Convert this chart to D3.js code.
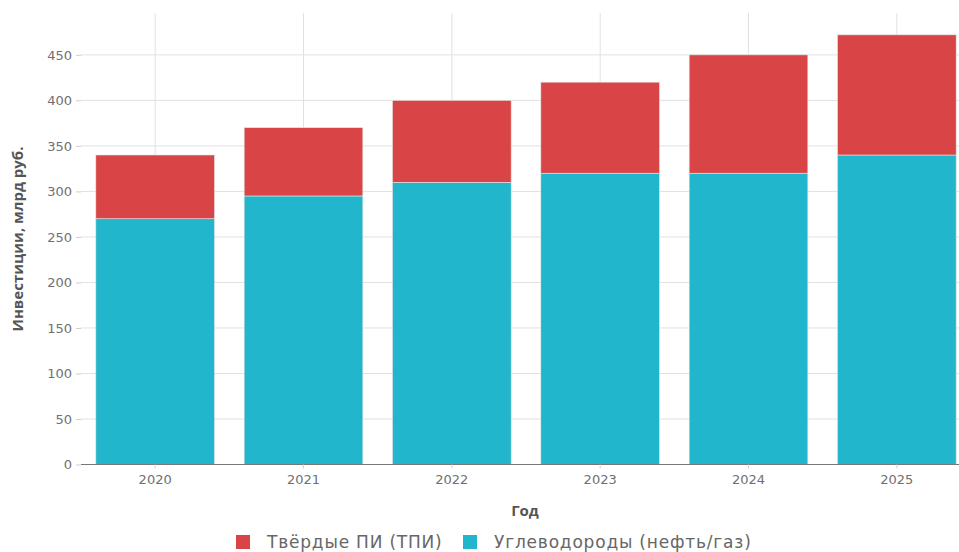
<!DOCTYPE html>
<html>
<head>
<meta charset="utf-8">
<script src="https://cdn.jsdelivr.net/npm/d3@7"></script>
<style>
  html, body { margin: 0; padding: 0; background: #fff; }
  svg { display: block; font-family: "Open Sans", "Noto Sans", sans-serif; }
  .lbl { font-family: "DejaVu Sans", "Noto Sans", sans-serif; }
</style>
</head>
<body>
<svg id="chart" width="959" height="552"></svg>
<script>
// Investment by year, billion rubles
const years = ["2020", "2021", "2022", "2023", "2024", "2025"];
const hydrocarbons = [270, 295, 310, 320, 320, 340];   // Углеводороды (нефть/газ)
const solidMinerals = [70, 75, 90, 100, 130, 132];     // Твёрдые ПИ (ТПИ)
const yTicks = [0, 50, 100, 150, 200, 250, 300, 350, 400, 450];
const seriesNames = ["Углеводороды (нефть/газ)", "Твёрдые ПИ (ТПИ)"];
const seriesColors = ["#21b6cc", "#d94546"];

const svg = d3.select("#chart");
const margin = { left: 81, top: 13, bottom: 464.5 };

const rows = years.map((y, i) => ({ year: y, hc: hydrocarbons[i], tpi: solidMinerals[i] }));
const stack = d3.stack().keys(["hc", "tpi"])(rows);

const x = d3.scaleBand().domain(years).range([margin.left, 971])
  .paddingInner(0.2).paddingOuter(0.1);
const y = d3.scaleLinear().domain([0, 496]).range([margin.bottom, margin.top]);

// Grid
const grid = svg.append("g");
grid.selectAll("line.h").data(yTicks.filter(t => t > 0)).join("line")
  .attr("x1", margin.left).attr("x2", 959)
  .attr("y1", d => y(d)).attr("y2", d => y(d))
  .attr("stroke", "#e1e1e1").attr("stroke-width", 1);
grid.selectAll("line.v").data(years).join("line")
  .attr("x1", d => x(d) + x.bandwidth() / 2).attr("x2", d => x(d) + x.bandwidth() / 2)
  .attr("y1", margin.top).attr("y2", margin.bottom)
  .attr("stroke", "#e1e1e1").attr("stroke-width", 1);

// Bars
svg.append("g").selectAll("g").data(stack).join("g")
  .attr("fill", (d, i) => seriesColors[i])
  .selectAll("rect").data(d => d).join("rect")
  .attr("x", d => x(d.data.year))
  .attr("width", x.bandwidth())
  .attr("y", d => y(d[1]))
  .attr("height", d => y(d[0]) - y(d[1]))
  .attr("stroke", "#e4e4e4").attr("stroke-width", 0.6);

// Y axis
const yAxis = svg.append("g").attr("transform", `translate(${margin.left},0)`)
  .call(d3.axisLeft(y).tickValues(yTicks).tickSize(5).tickPadding(4));
yAxis.select(".domain").remove();
yAxis.selectAll(".tick line").attr("stroke", "#cfcfcf");
yAxis.selectAll(".tick text").attr("class", "lbl").attr("fill", "#707070").style("font-size", "13px");

// X axis
const xAxis = svg.append("g").attr("transform", `translate(0,${margin.bottom})`)
  .call(d3.axisBottom(x).tickSize(4).tickPadding(6).tickSizeOuter(0));
xAxis.select(".domain").attr("d", `M${margin.left},0H971`).attr("stroke", "#777").attr("stroke-width", 1.2);
xAxis.selectAll(".tick line").attr("stroke", "#d5d5d5");
xAxis.selectAll(".tick text").attr("class", "lbl").attr("fill", "#707070").style("font-size", "13px");

// Axis titles
svg.append("text").attr("x", 525).attr("y", 516).attr("text-anchor", "middle")
  .attr("fill", "#555").style("font-size", "15px").style("font-weight", "bold").text("Год");
svg.append("text").attr("transform", "translate(23,239) rotate(-90)").attr("text-anchor", "middle")
  .attr("fill", "#555").style("font-size", "15px").style("font-weight", "bold")
  .text("Инвестиции, млрд руб.");

// Legend
const legendItems = [
  { name: seriesNames[1], color: seriesColors[1], x: 236 },
  { name: seriesNames[0], color: seriesColors[0], x: 463 }
];
const lg = svg.append("g").selectAll("g").data(legendItems).join("g")
  .attr("transform", d => `translate(${d.x},535)`);
lg.append("rect").attr("width", 14).attr("height", 14).attr("fill", d => d.color);
lg.append("text").attr("class", "lbl").attr("x", 31).attr("y", 13).attr("fill", "#666")
  .style("font-size", "17px").style("letter-spacing", "0.8px").text(d => d.name);
</script>
</body>
</html>
